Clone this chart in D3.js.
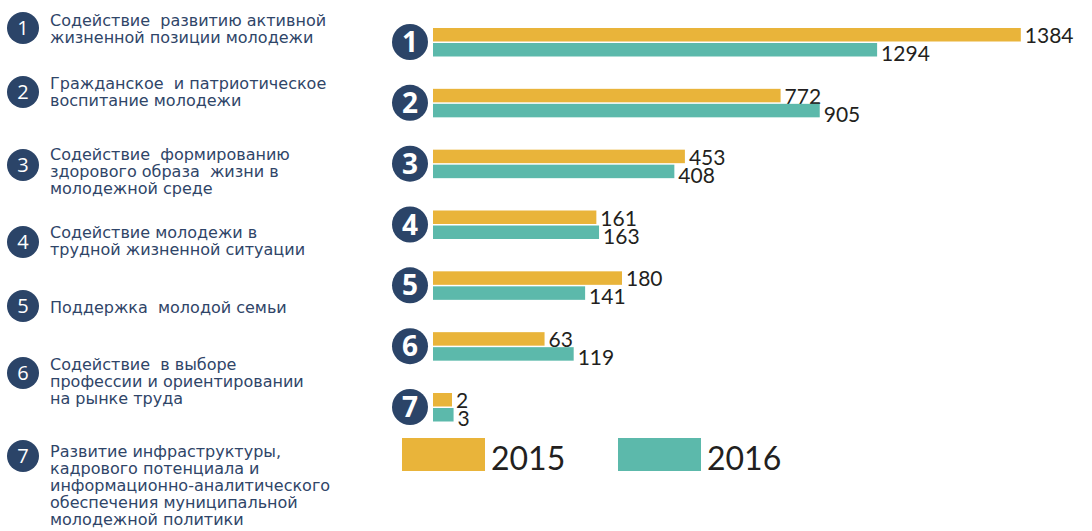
<!DOCTYPE html>
<html>
<head>
<meta charset="utf-8">
<script src="https://cdn.jsdelivr.net/npm/d3@7"></script>
<style>
  body { margin: 0; background: #fff; }
  svg { display: block; }
</style>
</head>
<body>
<svg id="chart"></svg>
<script>
// directions of youth policy, values for two years
const categories = ["1", "2", "3", "4", "5", "6", "7"]
const labels = [
    ["Содействие  развитию активной", "жизненной позиции молодежи"],
    ["Гражданское  и патриотическое", "воспитание молодежи"],
    ["Содействие  формированию", "здорового образа  жизни в", "молодежной среде"],
    ["Содействие молодежи в", "трудной жизненной ситуации"],
    ["Поддержка  молодой семьи"],
    ["Содействие  в выборе", "профессии и ориентировании", "на рынке труда"],
    ["Развитие инфраструктуры,", "кадрового потенциала и", "информационно-аналитического", "обеспечения муниципальной", "молодежной политики"]
]
const years = ["2015", "2016"]
const values2015 = [1384, 772, 453, 161, 180, 63, 2]
const values2016 = [1294, 905, 408, 163, 141, 119, 3]

const width = 1092,
    height = 531
const navy = "#2b4468"
const colors = { "2015": "#e9b43a", "2016": "#5cb9ab" }

const svg = d3.select("#chart")
    .attr("width", width)
    .attr("height", height);

// left legend with descriptions
const labelY = [28, 92, 165, 242, 306, 373, 456]
const firstBase = [26, 89, 160, 238, 313, 370, 457]
const lineGap = 17

const left = svg.append("g").attr("class", "descriptions");

categories.forEach((c, i) => {
    left.append("circle")
        .attr("cx", 23)
        .attr("cy", labelY[i])
        .attr("r", 16)
        .attr("fill", navy);
    left.append("text")
        .attr("x", 23)
        .attr("y", labelY[i] + 7)
        .attr("text-anchor", "middle")
        .attr("fill", "#fff")
        .style("font", "20px 'Open Sans'")
        .text(c);
    const t = left.append("text")
        .attr("fill", "#2f4568")
        .style("font", "16px 'DejaVu Sans'");
    labels[i].forEach((line, k) => {
        t.append("tspan")
            .attr("x", 50)
            .attr("y", firstBase[i] + k * lineGap)
            .attr("xml:space", "preserve")
            .text(line);
    });
});

// bars - the picture isn't drawn to a linear scale, so use a warped one
const x0 = 433
const x = d3.scaleLinear()
    .domain([0, 2, 60, 160, 180, 450, 900, 1300, 1400])
    .range([0, 19, 110, 162, 189, 251, 386, 445, 615]);

const y = d3.scalePoint()
    .domain(categories)
    .range([42, 407]);

const barH = 13.5

const rows = categories.map((c, i) => ({ cat: c, v: [values2015[i], values2016[i]] }));

const chart = svg.append("g").attr("class", "bars");

const row = chart.selectAll("g.row")
    .data(rows)
    .join("g")
    .attr("class", "row")
    .attr("transform", d => `translate(0, ${y(d.cat)})`);

row.append("circle")
    .attr("cx", 410)
    .attr("cy", 0)
    .attr("r", 18)
    .attr("fill", navy);

row.append("text")
    .attr("x", 410)
    .attr("y", 10)
    .attr("text-anchor", "middle")
    .attr("fill", "#fff")
    .style("font", "bold 28px 'Open Sans'")
    .text(d => d.cat);

years.forEach((yr, j) => {
    const top = j == 0 ? -barH - 0.5 : 1;
    row.append("rect")
        .attr("x", x0)
        .attr("y", top)
        .attr("width", d => x(d.v[j]))
        .attr("height", barH)
        .attr("fill", colors[yr]);
    row.append("text")
        .attr("x", d => x0 + x(d.v[j]) + 4)
        .attr("y", j == 0 ? 1 : 19)
        .attr("fill", "#231f20")
        .style("font", "21px Lato")
        .text(d => d.v[j]);
});

// legend
const legend = svg.append("g").attr("class", "legend");
years.forEach((yr, j) => {
    const lx = 402 + j * 216;
    legend.append("rect")
        .attr("x", lx)
        .attr("y", 438)
        .attr("width", 83)
        .attr("height", 33)
        .attr("fill", colors[yr]);
    legend.append("text")
        .attr("x", lx + 89)
        .attr("y", 470)
        .attr("fill", "#231f20")
        .style("font", "32px Lato")
        .text(yr);
});
</script>
</body>
</html>
